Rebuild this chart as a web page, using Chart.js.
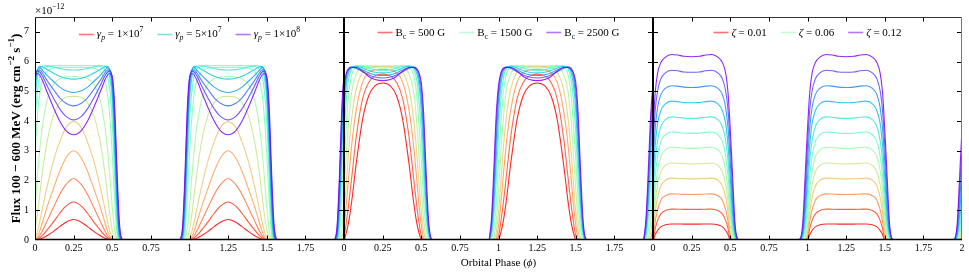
<!DOCTYPE html>
<html><head><meta charset="utf-8">
<script src="https://cdn.jsdelivr.net/npm/chart.js@4.4.1/dist/chart.umd.min.js"></script>
<style>html,body{margin:0;padding:0;background:#fff;}#wrap{position:relative;width:969px;height:273px;}</style>
</head><body><div id="wrap"><canvas id="c"></canvas></div>
<script>
// orbital phase samples within one cycle
const phase = [-0.06,-0.045,-0.03,-0.015,0,0.015,0.03,0.05,0.08,0.12,0.16,0.2,0.25,0.3,0.34,0.38,0.42,0.45,0.47,0.485,0.5,0.515,0.53,0.545,0.56,0.575];
const cycles = [0, 1, 2];
// panel 1: gamma_p from 1e7 (red) to 1e8 (purple)
const fluxGamma = [
 [0,0,0,0,0,0.01,0.03,0.07,0.15,0.29,0.45,0.6,0.69, 0.6,0.45,0.29,0.15,0.07,0.03,0.01,0,0,0,0,0,0],
 [0,0,0,0,0,0.02,0.07,0.16,0.35,0.61,0.9,1.14,1.28, 1.14,0.9,0.61,0.35,0.16,0.07,0.02,0,0,0,0,0,0],
 [0,0,0,0,0.01,0.05,0.15,0.33,0.66,1.1,1.53,1.86,2.07, 1.86,1.53,1.1,0.66,0.33,0.15,0.05,0.01,0,0,0,0,0],
 [0,0,0,0,0.03,0.12,0.3,0.63,1.14,1.74,2.31,2.76,3.0, 2.76,2.31,1.74,1.14,0.63,0.3,0.12,0.03,0,0,0,0,0],
 [0,0,0,0.02,0.08,0.28,0.6,1.11,1.83,2.67,3.3,3.78,3.98, 3.78,3.3,2.67,1.83,1.11,0.6,0.28,0.08,0.02,0,0,0,0],
 [0,0,0.02,0.1,0.35,0.85,1.5,2.35,3.35,4.2,4.62,4.8,4.83, 4.8,4.62,4.2,3.35,2.35,1.5,0.85,0.35,0.1,0.02,0,0,0],
 [0,0,0.06,0.35,1.1,2.1,3.0,3.9,4.75,5.25,5.42,5.48,5.5, 5.48,5.42,5.25,4.75,3.9,3.0,2.1,1.1,0.35,0.06,0,0,0],
 [0,0,0.25,1.4,2.9,4.1,4.9,5.4,5.68,5.78,5.8,5.8,5.8, 5.8,5.8,5.78,5.68,5.4,4.9,4.1,2.9,1.4,0.25,0,0,0],
 [0,0.02,0.5,2.2,4.0,5.0,5.5,5.75,5.84,5.86,5.86,5.86,5.86, 5.86,5.86,5.86,5.84,5.75,5.5,5.0,4.0,2.2,0.5,0.02,0,0],
 [0,0.05,0.8,2.8,4.6,5.45,5.75,5.85,5.86,5.82,5.77,5.73,5.72, 5.73,5.77,5.82,5.86,5.85,5.75,5.45,4.65,2.9,0.9,0.07,0,0],
 [0,0.1,1.1,3.2,4.95,5.65,5.84,5.82,5.73,5.61,5.51,5.44,5.41, 5.44,5.51,5.61,5.73,5.82,5.84,5.65,5.0,3.35,1.25,0.15,0,0],
 [0,0.17,1.35,3.55,5.15,5.72,5.8,5.7,5.53,5.33,5.14,5.02,4.96, 5.02,5.14,5.33,5.53,5.7,5.8,5.72,5.2,3.7,1.55,0.25,0.01,0],
 [0,0.25,1.6,3.85,5.3,5.72,5.72,5.6,5.35,5.06,4.78,4.6,4.51, 4.6,4.78,5.06,5.35,5.6,5.72,5.72,5.35,4.0,1.85,0.35,0.02,0],
 [0,0.35,1.85,4.1,5.4,5.68,5.65,5.5,5.17,4.77,4.41,4.16,4.04, 4.16,4.41,4.77,5.17,5.5,5.65,5.68,5.45,4.3,2.15,0.5,0.04,0],
 [0,0.45,2.1,4.35,5.45,5.6,5.55,5.35,4.95,4.45,4.0,3.68,3.54, 3.68,4.0,4.45,4.95,5.35,5.55,5.6,5.5,4.6,2.5,0.7,0.08,0]
];
// panel 2: B_c from 500 G (red) to 2500 G (purple)
const fluxBc = [
 [0,0,0,0,0,0.25,0.6,1.3,2.6,4.05,4.85,5.18,5.28, 5.18,4.85,4.05,2.6,1.3,0.6,0.25,0.02,0,0,0,0,0],
 [0,0,0,0,0.12,0.6,1.2,2.1,3.5,4.75,5.3,5.52,5.58, 5.52,5.3,4.75,3.5,2.1,1.2,0.6,0.15,0.01,0,0,0,0],
 [0,0,0,0.05,0.45,1.2,2.1,3.2,4.4,5.3,5.63,5.72,5.74, 5.72,5.63,5.3,4.4,3.2,2.1,1.2,0.5,0.07,0,0,0,0],
 [0,0,0.02,0.25,0.9,1.9,3.0,4.1,5.1,5.65,5.8,5.83,5.83, 5.83,5.8,5.65,5.1,4.1,3.0,1.9,0.95,0.3,0.03,0,0,0],
 [0,0,0.1,0.6,1.6,2.9,4.0,5.0,5.6,5.82,5.86,5.86,5.86, 5.86,5.86,5.82,5.6,5.0,4.0,2.9,1.7,0.7,0.12,0,0,0],
 [0,0.05,0.35,1.2,2.6,3.9,4.9,5.55,5.82,5.86,5.84,5.8,5.78, 5.8,5.84,5.86,5.82,5.55,4.9,3.9,2.75,1.35,0.42,0.06,0,0],
 [0,0.15,0.8,2.0,3.5,4.7,5.4,5.75,5.86,5.84,5.78,5.73,5.7, 5.73,5.78,5.84,5.86,5.75,5.4,4.7,3.65,2.15,0.9,0.18,0.01,0],
 [0,0.3,1.2,2.7,4.2,5.2,5.62,5.8,5.84,5.78,5.7,5.64,5.62, 5.64,5.7,5.78,5.84,5.8,5.62,5.2,4.35,2.85,1.3,0.35,0.03,0],
 [0,0.45,1.6,3.3,4.7,5.45,5.72,5.82,5.8,5.72,5.62,5.56,5.53, 5.56,5.62,5.72,5.8,5.82,5.72,5.45,4.8,3.45,1.75,0.5,0.06,0],
 [0,0.6,2.0,3.8,5.0,5.6,5.78,5.82,5.77,5.66,5.55,5.48,5.45, 5.48,5.55,5.66,5.77,5.82,5.78,5.6,5.1,3.9,2.1,0.65,0.08,0],
 [0,0.75,2.4,4.2,5.2,5.6,5.74,5.8,5.8,5.68,5.5,5.4,5.36, 5.4,5.5,5.68,5.8,5.8,5.74,5.62,5.3,4.3,2.5,0.85,0.12,0]
];
// panel 3: zeta from 0.01 (red) to 0.12 (purple)
const fluxZeta = [
 [0,0,0,0,0,0.19,0.32,0.44,0.51,0.54,0.54,0.535,0.535, 0.535,0.54,0.54,0.51,0.44,0.32,0.19,0,0,0,0,0,0],
 [0,0,0,0,0.03,0.4,0.66,0.87,0.99,1.04,1.035,1.03,1.03, 1.03,1.035,1.04,0.99,0.87,0.66,0.4,0.03,0,0,0,0,0],
 [0,0,0,0,0.11,0.65,1.02,1.33,1.49,1.55,1.545,1.535,1.53, 1.535,1.545,1.55,1.49,1.33,1.02,0.65,0.11,0,0,0,0,0],
 [0,0,0,0.02,0.25,0.96,1.44,1.81,2.01,2.08,2.07,2.06,2.055, 2.06,2.07,2.08,2.01,1.81,1.44,0.96,0.25,0.02,0,0,0,0],
 [0,0,0,0.08,0.47,1.3,1.86,2.28,2.51,2.59,2.58,2.565,2.56, 2.565,2.58,2.59,2.51,2.28,1.86,1.3,0.47,0.08,0,0,0,0],
 [0,0,0.03,0.19,0.78,1.72,2.34,2.79,3.03,3.12,3.11,3.09,3.08, 3.09,3.11,3.12,3.03,2.79,2.34,1.72,0.78,0.19,0.03,0,0,0],
 [0,0,0.07,0.36,1.16,2.18,2.83,3.3,3.54,3.63,3.62,3.59,3.585, 3.59,3.62,3.63,3.54,3.3,2.83,2.18,1.16,0.36,0.07,0,0,0],
 [0,0,0.12,0.58,1.61,2.69,3.35,3.81,4.05,4.14,4.13,4.1,4.09, 4.1,4.13,4.14,4.05,3.81,3.35,2.69,1.61,0.58,0.12,0,0,0],
 [0,0,0.23,0.89,2.1,3.22,3.92,4.34,4.58,4.67,4.655,4.62,4.615, 4.62,4.655,4.67,4.58,4.34,3.92,3.22,2.1,0.89,0.23,0,0,0],
 [0,0.05,0.31,1.25,2.65,3.79,4.46,4.88,5.1,5.19,5.175,5.14,5.13, 5.14,5.175,5.19,5.1,4.88,4.46,3.79,2.65,1.25,0.31,0.05,0,0],
 [0,0.06,0.46,1.71,3.2,4.4,5.02,5.41,5.62,5.71,5.69,5.65,5.64, 5.65,5.69,5.71,5.62,5.41,5.02,4.4,3.2,1.71,0.46,0.06,0,0],
 [0,0.06,0.62,2.18,3.74,4.99,5.62,5.96,6.15,6.24,6.22,6.18,6.165, 6.18,6.22,6.24,6.15,5.96,5.62,4.99,3.74,2.18,0.62,0.06,0,0]
];
const phaseTickLabels = ['0','0.25','0.5','0.75','1','1.25','1.5','1.75','2'];
const fluxTicks = [0,1,2,3,4,5,6,7];
const legendGamma = [{idx:0, mant:'1', exp:'7'}, {idx:10, mant:'5', exp:'7'}, {idx:14, mant:'1', exp:'8'}];
const legendBc = [{idx:0, text:'500 G'}, {idx:5, text:'1500 G'}, {idx:10, text:'2500 G'}];
const legendZeta = [{idx:0, text:'0.01'}, {idx:5, text:'0.06'}, {idx:11, text:'0.12'}];

const SERIF = '"Liberation Serif","Times New Roman",serif';
function rainbow(t, a){
  const r = Math.min(1, Math.abs(2*t - 0.5)), g = Math.sin(Math.PI*t), b = Math.cos(Math.PI*t/2);
  return 'rgba(' + Math.round(r*255) + ',' + Math.round(g*255) + ',' + Math.round(b*255) + ',' + a + ')';
}
const panels = [fluxGamma, fluxBc, fluxZeta];
const datasets = [];
panels.forEach((curves, p) => curves.forEach((vals, i) => {
  const pts = [];
  cycles.forEach((c, ci) => {
    if (ci > 0) pts.push({x: 2*p + c - 0.2, y: null});
    phase.forEach((ph, k) => pts.push({x: 2*p + c + ph, y: vals[k]}));
  });
  datasets.push({data: pts, panel: p, borderColor: rainbow(1 - i/(curves.length-1), 0.85),
    borderWidth: 1.1, pointRadius: 0, fill: false, cubicInterpolationMode: 'monotone',
    spanGaps: false, order: -i});
}));
const legendParts = [
  legendGamma.map(e => ({idx: e.idx, n: fluxGamma.length, parts: [{t:'γ', it:1}, {t:'p', it:1, sub:1}, {t:' = ' + e.mant + '×10'}, {t:e.exp, sup:1}]})),
  legendBc.map(e => ({idx: e.idx, n: fluxBc.length, parts: [{t:'B'}, {t:'c', sub:1}, {t:' = ' + e.text}]})),
  legendZeta.map(e => ({idx: e.idx, n: fluxZeta.length, parts: [{t:'ζ', it:1}, {t:' = ' + e.text}]}))
];
const xTickValues = [];
for (let p = 0; p < 3; p++) for (let k = 0; k < 8; k++) xTickValues.push(2*p + k*0.25);
xTickValues.push(6);

function fontFor(p, size, bold){ const s = (p.sub || p.sup) ? size*0.7 : size; return (p.it ? 'italic ' : '') + (bold ? 'bold ' : '') + s + 'px ' + SERIF; }
function richWidth(ctx, parts, size, bold){ let w = 0; parts.forEach(p => { ctx.font = fontFor(p, size, bold); w += ctx.measureText(p.t).width; }); return w; }
function richDraw(ctx, parts, x, y, size, bold){
  parts.forEach(p => { ctx.font = fontFor(p, size, bold); const dy = p.sub ? size*0.3 : (p.sup ? -size*0.42 : 0);
    ctx.fillText(p.t, x, y + dy); x += ctx.measureText(p.t).width; });
  return x;
}

const decor = {
  id: 'decor',
  beforeDatasetDraw(chart, args){
    const ds = chart.data.datasets[args.index], xs = chart.scales.x, a = chart.chartArea, ctx = chart.ctx;
    const l = xs.getPixelForValue(2*ds.panel), r = xs.getPixelForValue(2*ds.panel + 2);
    ctx.save(); ctx.beginPath(); ctx.rect(l, a.top, r - l, a.bottom - a.top); ctx.clip();
  },
  afterDatasetDraw(chart){ chart.ctx.restore(); },
  afterDraw(chart){
    const ctx = chart.ctx, a = chart.chartArea, xs = chart.scales.x, ys = chart.scales.y;
    ctx.save();
    ctx.strokeStyle = '#000'; ctx.lineWidth = 1;
    const L = Math.round(a.left) + 0.5, R = Math.round(a.right) - 0.5, T = Math.round(a.top) + 0.5, B = Math.round(a.bottom) - 0.5;
    ctx.beginPath();
    xTickValues.forEach(v => { if (Math.abs(v/2 - Math.round(v/2)) < 1e-6) return;
      const px = Math.round(xs.getPixelForValue(v)) + 0.5;
      ctx.moveTo(px, B); ctx.lineTo(px, B - 4); ctx.moveTo(px, T); ctx.lineTo(px, T + 4); });
    const bounds = [0, 2, 4, 6].map(v => Math.round(xs.getPixelForValue(v)));
    fluxTicks.forEach(v => { if (v === 0) return; const py = Math.round(ys.getPixelForValue(v)) + 0.5;
      bounds.forEach((bx, j) => { if (j > 0) { ctx.moveTo(bx, py); ctx.lineTo(bx - 5, py); } if (j < 3) { ctx.moveTo(bx, py); ctx.lineTo(bx + 5, py); } }); });
    ctx.stroke();
    ctx.beginPath(); ctx.moveTo(L, T); ctx.lineTo(R, T); ctx.strokeStyle = '#333'; ctx.stroke();
    ctx.beginPath(); ctx.moveTo(R, T); ctx.lineTo(R, B + 0.5); ctx.strokeStyle = '#777'; ctx.stroke();
    ctx.strokeStyle = '#000';
    ctx.beginPath(); ctx.moveTo(L, T); ctx.lineTo(L, B + 0.5); ctx.stroke();
    ctx.lineWidth = 1.5; ctx.beginPath(); ctx.moveTo(L - 0.5, B); ctx.lineTo(R + 0.5, B); ctx.stroke();
    ctx.lineWidth = 2; ctx.beginPath();
    [2, 4].forEach(v => { const px = Math.round(xs.getPixelForValue(v)); ctx.moveTo(px, T - 0.5); ctx.lineTo(px, B + 0.5); });
    ctx.stroke();
    ctx.fillStyle = '#000'; ctx.textBaseline = 'alphabetic'; ctx.textAlign = 'left';
    const legY = [[34.5, 37], [32.5, 36], [32.5, 36]];
    legendParts.forEach((items, p) => {
      const cx = (xs.getPixelForValue(2*p) + xs.getPixelForValue(2*p + 2)) / 2;
      const widths = items.map(it => richWidth(ctx, it.parts, 11, false));
      const total = widths.reduce((s, w) => s + w + 18, 0) + 14*(items.length - 1);
      let x = cx - total/2;
      items.forEach((it, j) => {
        ctx.strokeStyle = rainbow(1 - it.idx/(it.n - 1), 0.55); ctx.lineWidth = 1.6;
        ctx.beginPath(); ctx.moveTo(x, legY[p][0]); ctx.lineTo(x + 15, legY[p][0]); ctx.stroke();
        richDraw(ctx, it.parts, x + 18, legY[p][1], 11, false);
        x += 18 + widths[j] + 14;
      });
    });
    richDraw(ctx, [{t:'×10'}, {t:'−12', sup:1}], a.left, 13.5, 11, false);
    const xt = [{t:'Orbital Phase ('}, {t:'ϕ', it:1}, {t:')'}];
    const xw = richWidth(ctx, xt, 11, false);
    richDraw(ctx, xt, (a.left + a.right)/2 - xw/2, 265.5, 11, false);
    const yt = [{t:'Flux 100 − 600 MeV (erg cm'}, {t:'−2', sup:1}, {t:' s'}, {t:'−1', sup:1}, {t:')'}];
    const yw = richWidth(ctx, yt, 13, true);
    ctx.translate(15, (a.top + a.bottom)/2); ctx.rotate(-Math.PI/2);
    richDraw(ctx, yt, -yw/2, 4.5, 13, true);
    ctx.restore();
  }
};

new Chart(document.getElementById('c'), {
  type: 'line',
  data: {datasets},
  options: {
    responsive: true, maintainAspectRatio: false, animation: false, devicePixelRatio: 1, events: [],
    layout: {padding: {left: 0, top: 17, right: 7, bottom: 0}},
    plugins: {legend: {display: false}, tooltip: {enabled: false}},
    scales: {
      x: {type: 'linear', min: 0, max: 6,
        afterFit(s){ s.height = 33; },
        afterBuildTicks(s){ s.ticks = xTickValues.map(v => ({value: v})); },
        grid: {display: false, drawTicks: false}, border: {display: false},
        ticks: {autoSkip: false, maxRotation: 0, minRotation: 0, padding: 2, color: '#000',
          font: {family: SERIF, size: 10},
          callback(v){ if (Math.abs(v - 6) < 1e-6) return phaseTickLabels[8];
            const loc = v - 2*Math.floor(v/2 + 1e-9); return phaseTickLabels[Math.round(loc/0.25)]; }}},
      y: {type: 'linear', min: 0, max: 7.5,
        afterFit(s){ s.width = 35; },
        afterBuildTicks(s){ s.ticks = fluxTicks.map(v => ({value: v})); },
        grid: {display: false, drawTicks: false}, border: {display: false},
        ticks: {padding: 6, color: '#000', font: {family: SERIF, size: 10}}}
    }
  },
  plugins: [decor]
});
</script></body></html>
